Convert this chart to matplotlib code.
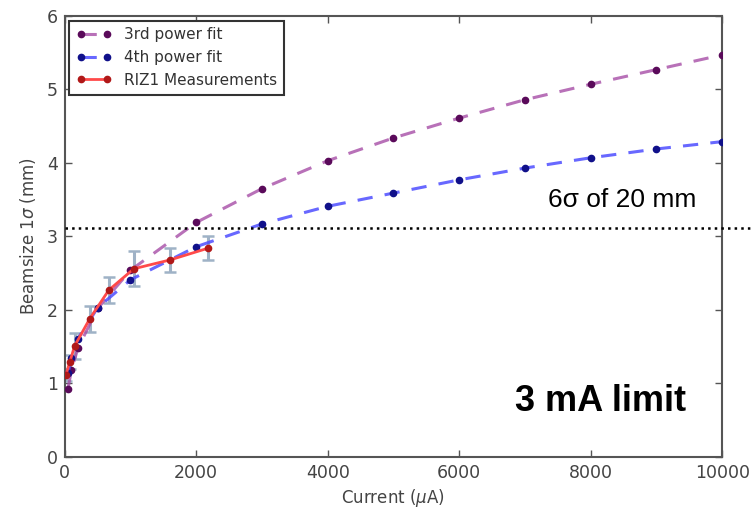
import matplotlib
matplotlib.use("Agg")
import matplotlib.pyplot as plt

# Fit curves
fit_x = [50, 100, 200, 500, 1000, 2000, 3000, 4000, 5000, 6000, 7000, 8000, 9000, 10000]
fit3_y = [0.93, 1.18, 1.48, 2.02, 2.54, 3.19, 3.65, 4.03, 4.34, 4.61, 4.86, 5.07, 5.27, 5.47]
fit4_y = [1.14, 1.35, 1.61, 2.03, 2.41, 2.86, 3.17, 3.41, 3.59, 3.77, 3.93, 4.07, 4.19, 4.29]

# Measurements
meas_x = [15, 76, 150, 380, 670, 1050, 1600, 2180]
meas_y = [1.11, 1.29, 1.51, 1.88, 2.27, 2.56, 2.68, 2.84]
meas_err = [0.08, 0.10, 0.18, 0.18, 0.18, 0.24, 0.16, 0.16]

limit_y = 3.12
x_ticks = [0, 2000, 4000, 6000, 8000, 10000]
y_ticks = [0, 1, 2, 3, 4, 5, 6]

plt.rcParams['font.family'] = ['DejaVu Sans']
fig = plt.figure(figsize=(7.53, 5.14), dpi=100)
ax = fig.add_axes([0.086, 0.111, 0.873, 0.858])

grey = '#555555'
ax.errorbar(meas_x, meas_y, yerr=meas_err, fmt='none', ecolor='#9fb2c6',
            elinewidth=2.2, capsize=4, capthick=1.8, zorder=2)
ax.plot(fit_x, fit3_y, '--o', color=(0.65, 0.3, 0.65, 0.8), lw=2.2, dashes=(5, 4),
        markersize=4.5, markerfacecolor='#5a0a5a', markeredgecolor='#5a0a5a',
        label='3rd power fit', zorder=3)
ax.plot(fit_x, fit4_y, '--o', color=(0.3, 0.3, 1.0, 0.85), lw=2.2, dashes=(5, 4),
        markersize=4.5, markerfacecolor='#10108a', markeredgecolor='#10108a',
        label='4th power fit', zorder=3)
ax.plot(meas_x, meas_y, '-o', color='#ff4a4a', lw=2, markersize=4.5,
        markerfacecolor='#b01818', markeredgecolor='#b01818',
        label='RIZ1 Measurements', zorder=4)

ax.plot([0, 1.05], [limit_y, limit_y], transform=ax.get_yaxis_transform(),
        color='black', ls=':', lw=1.8, clip_on=False, zorder=5)

ax.set_xlim(0, 10000)
ax.set_ylim(0, 6)
ax.set_xticks(x_ticks)
ax.set_yticks(y_ticks)
ax.tick_params(direction='in', top=True, right=True, length=5, width=1,
               colors=grey, labelsize=12.5, labelcolor='#444444', pad=5)
for s in ax.spines.values():
    s.set_color(grey)
    s.set_linewidth(1.5)

ax.set_xlabel('Current ($\\mu$A)', fontsize=12, color='#444444')
ax.set_ylabel('Beamsize 1$\\sigma$ (mm)', fontsize=12, color='#444444', labelpad=6)

leg = ax.legend(loc='upper left', fontsize=11, numpoints=2, fancybox=False,
                framealpha=1, edgecolor='#333333', borderaxespad=0.3,
                handlelength=2.3, labelspacing=0.5, borderpad=0.45)
leg.get_frame().set_linewidth(1.5)
for t in leg.get_texts():
    t.set_color('#333333')

fig.text(0.925, 0.61, '6σ of 20 mm', fontsize=19, family='Liberation Sans',
         ha='right', va='center', color='black')
fig.text(0.911, 0.218, '3 mA limit', fontsize=26, family='Liberation Sans',
         fontweight='bold', ha='right', va='center', color='black')

fig.savefig('out.png', dpi=100)
